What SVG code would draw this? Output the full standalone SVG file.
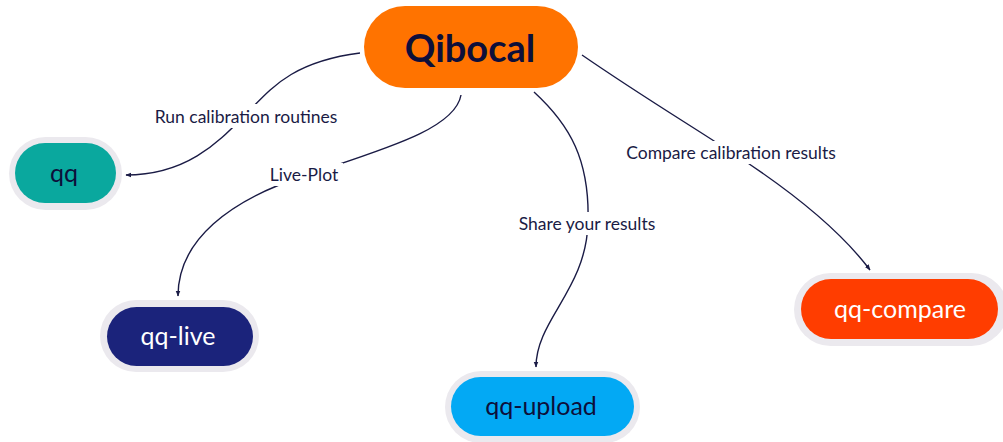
<svg xmlns="http://www.w3.org/2000/svg" width="1003" height="442" viewBox="0 0 1003 442">
<style>
.halo{fill:#ebe9ee}
.lbl{font-family:Lato,"Liberation Sans",sans-serif;font-size:17.5px;fill:#1a1b45;text-anchor:middle;dominant-baseline:central}
.nt{font-family:Lato,"Liberation Sans",sans-serif;font-size:25px;text-anchor:middle;dominant-baseline:central}
.edge{fill:none;stroke:#1a1b45;stroke-width:1.4}
.bg{fill:#ffffff}
</style>
<defs>
<marker id="arr" viewBox="0 0 10 10" refX="9" refY="5" markerWidth="6" markerHeight="6" orient="auto" markerUnits="userSpaceOnUse">
<path d="M0,1 L10,5 L0,9 z" fill="#1a1b45"/>
</marker>
</defs>
<rect width="1003" height="442" fill="#ffffff"/>
<g id="connectors">
<path class="edge" d="M360,53 C290,62 270,90 246,114 C222,138 190,175 126,175" marker-end="url(#arr)"/>
<path class="edge" d="M461,95 C455,130 380,150 304,176 C230,200 178,240 178,296" marker-end="url(#arr)"/>
<path class="edge" d="M534,92 C570,125 590,160 588,223 C586,290 536,320 536,367" marker-end="url(#arr)"/>
<path class="edge" d="M582,55 C640,95 690,125 731,152 C790,190 840,230 870,270" marker-end="url(#arr)"/>
<rect class="bg" x="146" y="104" width="200" height="24"/>
<text class="lbl" x="246" y="116">Run calibration routines</text>
<rect class="bg" x="265" y="163" width="78" height="23"/>
<text class="lbl" x="304" y="174">Live-Plot</text>
<rect class="bg" x="514" y="212" width="146" height="23"/>
<text class="lbl" x="587" y="223">Share your results</text>
<rect class="bg" x="622" y="141" width="218" height="23"/>
<text class="lbl" x="731" y="152">Compare calibration results</text>
</g>
<g id="qibocal">
<rect x="364" y="6" width="214" height="82" rx="41" fill="#ff7300"/>
<text class="nt" x="470" y="47" font-weight="bold" fill="#0d0f3a" style="font-size:38px">Qibocal</text>
</g>
<g id="qq">
<rect class="halo" x="9" y="137" width="113" height="73" rx="36.5"/>
<rect x="15" y="143" width="101" height="60" rx="30" fill="#0aa89e"/>
<text class="nt" x="64" y="172" fill="#0d0f3a">qq</text>
</g>
<g id="qq-live">
<rect class="halo" x="100" y="300" width="159" height="72" rx="36"/>
<rect x="107" y="307" width="146" height="59" rx="29.5" fill="#1b237b"/>
<text class="nt" x="178" y="335" fill="#ffffff">qq-live</text>
</g>
<g id="qq-upload">
<rect class="halo" x="445" y="371" width="195" height="72" rx="36"/>
<rect x="451" y="377" width="183" height="59" rx="29.5" fill="#03a9f4"/>
<text class="nt" x="541" y="405" fill="#0d0f3a">qq-upload</text>
</g>
<g id="qq-compare">
<rect class="halo" x="794" y="273" width="214" height="73" rx="36.5"/>
<rect x="801" y="279" width="197" height="60" rx="30" fill="#ff3d00"/>
<text class="nt" x="900" y="308" fill="#ffffff">qq-compare</text>
</g>
</svg>
